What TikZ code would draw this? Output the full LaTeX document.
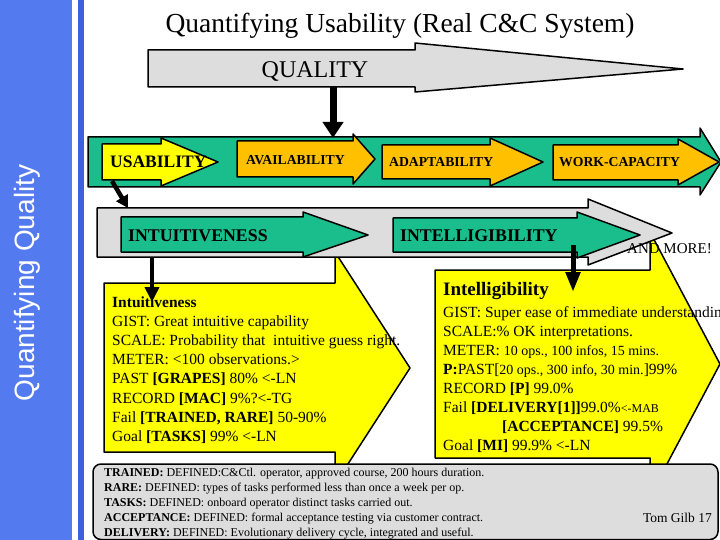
\documentclass[tikz,border=0pt]{standalone}
\usepackage{fontspec}
\setmainfont{Liberation Serif}
\newfontfamily\sidefont{Liberation Sans}
\usepackage{tikz}
\usetikzlibrary{arrows.meta,positioning}

\definecolor{sideblue}{RGB}{84,122,240}
\definecolor{sidedark}{RGB}{62,96,222}
\definecolor{bandgreen}{RGB}{26,190,140}
\definecolor{blockorange}{RGB}{255,192,0}
\definecolor{cardyellow}{RGB}{255,255,0}
\definecolor{bandgray}{RGB}{221,221,221}

\newcommand{\fsz}[1]{\fontsize{#1}{#1}\selectfont}

\begin{document}
\begin{tikzpicture}[x=1pt,y=-1pt,
    blockline/.style={draw=black,line width=1.5pt,line join=round},
    blocklabel/.style={anchor=base west,inner sep=0pt,font=\bfseries\fsz{13.7}},
    bandlabel/.style={anchor=base west,inner sep=0pt,font=\bfseries\fsz{17.8}},
    cardtext/.style={anchor=base west,inner sep=0pt,font=\fsz{15.5}},
    notetext/.style={anchor=base west,inner sep=0pt,font=\fsz{12}},
    pointer/.style={line width=4.5pt,-{Triangle[length=15pt,width=14pt]}},
]
    \useasboundingbox (0,0) rectangle (720,540);
    \clip (0,0) rectangle (720,540);
    \fill[white] (0,0) rectangle (720,540);

    % side bar
    \fill[sideblue] (0,0) rectangle (72,540);
    \fill[sidedark] (78,0) rectangle (84,540);
    \node[rotate=90,text=white,font=\sidefont\fsz{28}] (sidetitle) at (27,283) {Quantifying Quality};

    % title
    \node[anchor=base,inner sep=0pt,font=\fsz{27.5}] (title) at (400,33) {Quantifying Usability (Real C\&C System)};

    % QUALITY arrow
    \draw[blockline,fill=bandgray] (148,50) -- (415,50) -- (415,43) -- (683,69) -- (415,92) -- (415,87) -- (148,87) -- cycle;
    \node[anchor=base,inner sep=0pt,font=\fsz{24}] (quality) at (315,78) {QUALITY};

    % green band with the four qualities
    \draw[blockline,fill=bandgreen] (88,137) -- (700,137) -- (700,128) -- (721,162) -- (700,195) -- (700,187) -- (88,187) -- cycle;
    \draw[blockline,fill=cardyellow] (102,144) -- (161,144) -- (161,138) -- (218,162) -- (161,186) -- (161,180) -- (102,180) -- cycle;
    \draw[blockline,fill=blockorange] (237,141) -- (353,141) -- (353,134) -- (375,159) -- (353,184) -- (353,177) -- (237,177) -- cycle;
    \draw[blockline,fill=blockorange] (382,145) -- (490,145) -- (490,138) -- (543,162) -- (490,186) -- (490,179) -- (382,179) -- cycle;
    \draw[blockline,fill=blockorange] (553,145) -- (678,145) -- (678,139) -- (719,162) -- (678,185) -- (678,180) -- (553,180) -- cycle;
    \node[blocklabel,font=\bfseries\fsz{17.5}] (usability) at (110,168) {USABILITY};
    \node[blocklabel] (availability) at (246,165) {AVAILABILITY};
    \node[blocklabel] (adaptability) at (389,167) {ADAPTABILITY};
    \node[blocklabel] (workcap) at (559,167) {WORK-CAPACITY};

    % yellow cards
    \draw[blockline,fill=cardyellow] (104,283) -- (335,283) -- (335,252) -- (410,368) -- (335,484) -- (335,452) -- (104,452) -- cycle;
    \draw[blockline,fill=cardyellow] (435,270) -- (650,270) -- (650,232) -- (720,364) -- (650,496) -- (650,458) -- (435,458) -- cycle;

    % grey band with the sub-qualities
    \draw[blockline,fill=bandgray] (97,208) -- (588,208) -- (588,199) -- (672,233) -- (588,265) -- (588,257) -- (97,257) -- cycle;
    \draw[blockline,fill=bandgreen] (121,217) -- (303,217) -- (303,212) -- (368,235) -- (303,257) -- (303,252) -- (121,252) -- cycle;
    \draw[blockline,fill=bandgreen] (393,218) -- (577,218) -- (577,212) -- (640,235) -- (577,258) -- (577,252) -- (393,252) -- cycle;
    \node[bandlabel] (intuitiveness) at (128,241) {INTUITIVENESS};
    \node[bandlabel] (intelligibility) at (400,241) {INTELLIGIBILITY};

    % Intuitiveness card
    \node[cardtext,font=\bfseries\fsz{15.5}] (intuhead) at (112,307) {Intuitiveness};
    \foreach \entry [count=\i] in {
        {GIST: Great intuitive capability},
        {SCALE: Probability that\ \ intuitive guess right.},
        {METER: <100 observations.>},
        {PAST \textbf{[GRAPES]} 80\% <-LN},
        {RECORD \textbf{[MAC]} 9\%?<-TG},
        {Fail \textbf{[TRAINED, RARE]} 50-90\%},
        {Goal \textbf{[TASKS]} 99\% <-LN}}
        \node[cardtext] (intu\i) at (112,{307+19.2*\i}) {\entry};

    % Intelligibility card
    \node[cardtext,font=\bfseries\fsz{19}] (intelhead) at (443,295) {Intelligibility};
    \foreach \entry [count=\i] in {
        {GIST: Super ease of immediate understanding},
        {SCALE:\% OK interpretations.},
        {METER: {\fsz{14}10 ops., 100 infos, 15 mins.}},
        {\textbf{P:}PAST[{\fsz{14}20 ops., 300 info, 30 min.}]99\%},
        {RECORD \textbf{[P]} 99.0\%},
        {Fail \textbf{[DELIVERY[1]]}99.0\%{\fsz{12}<-MAB}},
        {\hspace*{59pt}\textbf{[ACCEPTANCE]} 99.5\%},
        {Goal \textbf{[MI]} 99.9\% <-LN}}
        \node[cardtext] (intel\i) at (443,{317+19*(\i-1)}) {\entry};

    % definitions
    \draw[blockline,fill=bandgray,rounded corners=8pt] (93,464) rectangle (718,539.5);
    \foreach \entry [count=\i] in {
        {\textbf{TRAINED:} DEFINED:C\&Ctl. operator, approved course, 200 hours duration.},
        {\textbf{RARE:} DEFINED: types of tasks performed less than once a week per op.},
        {\textbf{TASKS:} DEFINED: onboard operator distinct tasks carried out.},
        {\textbf{ACCEPTANCE:} DEFINED: formal acceptance testing via customer contract.},
        {\textbf{DELIVERY:} DEFINED: Evolutionary delivery cycle, integrated and useful.}}
        \node[notetext] (note\i) at (104,{476.5+15*(\i-1)}) {\entry};
    \node[anchor=base east,inner sep=0pt,font=\fsz{13.5}] (pageno) at (712,522) {Tom Gilb 17};

    % connectors
    \coordinate (qbase) at (333,87);
    \coordinate (qhit) at (333,138);
    \coordinate (usabase) at (112,181);
    \coordinate (usahit) at (128,208);
    \coordinate (intubase) at (152,257);
    \coordinate (intuhit) at (152,302);
    \coordinate (intelbase) at (573,245);
    \coordinate (intelhit) at (573,292);
    \draw[line width=7pt,-{Triangle[length=16pt,width=20pt]}] (qbase) -- (qhit);
    \draw[pointer,-{Triangle[length=12pt,width=13pt]}] (usabase) -- (usahit);
    \draw[pointer,line width=4pt] (intubase) -- (intuhit);
    \draw[pointer,line width=5pt,-{Triangle[length=20pt,width=14pt]}] (intelbase) -- (intelhit);

    \node[anchor=base west,inner sep=0pt,font=\fsz{15}] (andmore) at (627,253) {AND MORE!};
\end{tikzpicture}
\end{document}
